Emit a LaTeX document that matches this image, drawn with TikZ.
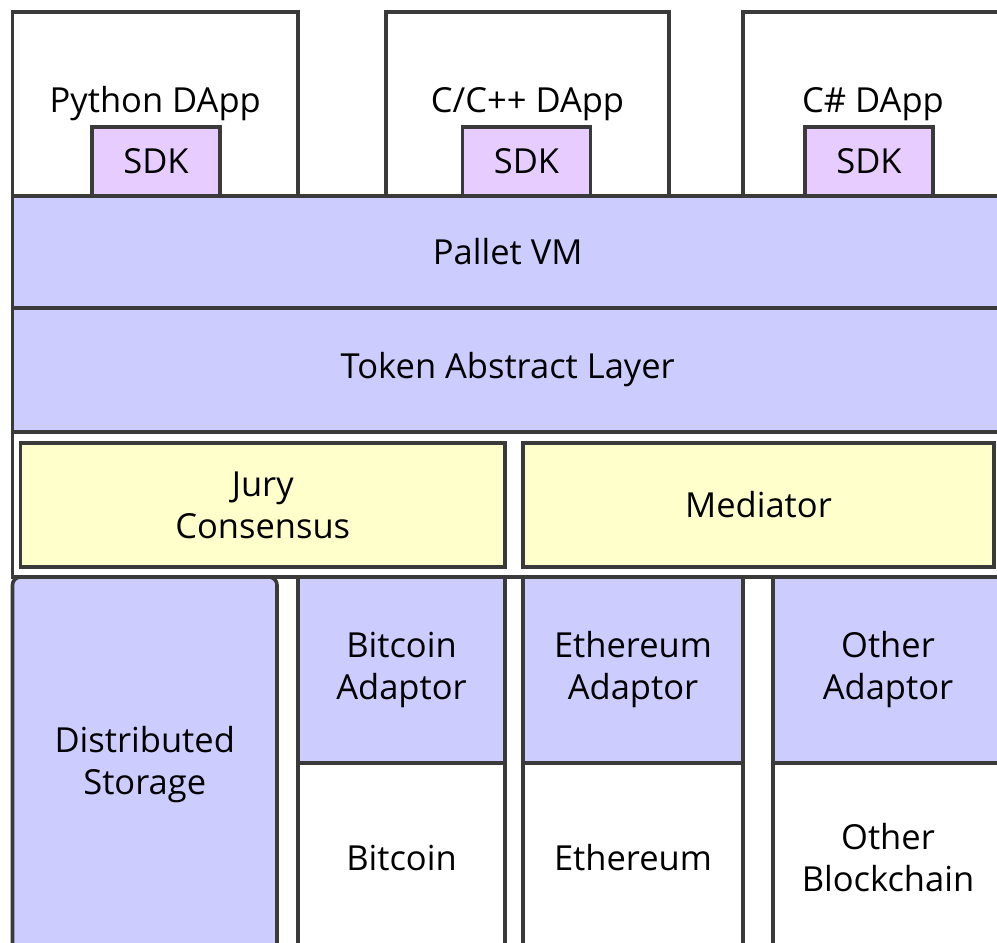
\documentclass[tikz,border=0pt]{standalone}
\usepackage{fontspec}
\setmainfont{Open Sans}
\usepackage{tikz}
\usetikzlibrary{positioning}
\definecolor{edge}{HTML}{3A3A3A}
\definecolor{layerblue}{HTML}{CCCCFF}
\definecolor{sdkpink}{HTML}{E6CCFF}
\definecolor{consyellow}{HTML}{FFFFCC}

\begin{document}
\begin{tikzpicture}
[
	x = 1pt, y = -1pt,
	box/.style	= {rectangle, draw = edge, line width = 3.6pt, outer sep = 0pt, inner sep = 0pt, align = center, font = \fontsize{34.5}{42}\selectfont},
	app/.style	= {box, fill = white, minimum height = 184pt},
	sdk/.style	= {box, fill = sdkpink, minimum width = 128pt, minimum height = 69pt},
	layer/.style	= {box, fill = layerblue, minimum width = 990.5pt},
	cons/.style	= {box, fill = consyellow, minimum height = 124pt},
	adaptor/.style	= {box, fill = layerblue, minimum height = 186pt},
	chain/.style	= {box, fill = white, minimum height = 190pt},
]

	\useasboundingbox (0,0) rectangle (997,943);
	\clip (0,0) rectangle (997,943);

	\node (pyapp) [app, minimum width = 285.5pt] at (155.25,104) {Python DApp};
	\node (cppapp) [app, minimum width = 283pt] at (527.5,104) {C/C++ DApp};
	\node (csapp) [app, minimum width = 260pt] at (873,104) {C\# DApp};
	%
	\node (pysdk) [sdk, anchor = south] at (156,196) {SDK};
	\node (cppsdk) [sdk, anchor = south] at (526.5,196) {SDK};
	\node (cssdk) [sdk, anchor = south] at (869,196) {SDK};
	%
	\node (vm) [layer, minimum height = 112pt, anchor = north west] at (12.5,196) {Pallet VM};
	\node (tal) [layer, minimum height = 124pt, below = 0pt of vm] {Token Abstract Layer};
	\node (core) [layer, fill = white, minimum height = 145pt, below = 0pt of tal] {};
	%
	\node (jury) [cons, minimum width = 484.5pt] at (262.75,505) {Jury\\Consensus};
	\node (mediator) [cons, minimum width = 471pt] at (758.5,505) {Mediator};
	%
	\node (storage) [box, fill = layerblue, rounded corners = 8pt, minimum width = 264.5pt, minimum height = 376pt, anchor = north west] at (12.5,577) {Distributed\\Storage};
	\node (btcad) [adaptor, minimum width = 207pt, anchor = north west] at (298,577) {Bitcoin\\Adaptor};
	\node (ethad) [adaptor, minimum width = 220pt, anchor = north west] at (523,577) {Ethereum\\Adaptor};
	\node (othad) [adaptor, minimum width = 230pt, anchor = north west] at (773,577) {Other\\Adaptor};
	%
	\node (btc) [chain, minimum width = 207pt, below = 0pt of btcad] {Bitcoin};
	\node (eth) [chain, minimum width = 220pt, below = 0pt of ethad] {Ethereum};
	\node (othbc) [chain, minimum width = 230pt, below = 0pt of othad] {Other\\Blockchain};

\end{tikzpicture}
\end{document}
